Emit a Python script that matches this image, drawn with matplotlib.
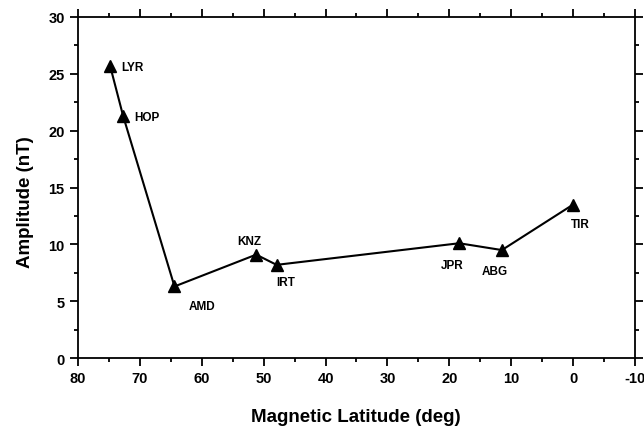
import matplotlib
matplotlib.use("Agg")
import matplotlib.pyplot as plt
from matplotlib.ticker import MultipleLocator

plt.rcParams['font.family'] = ['Liberation Sans', 'DejaVu Sans']
plt.rcParams['font.weight'] = 'bold'
plt.rcParams['axes.unicode_minus'] = False

stations = ["LYR", "HOP", "AMD", "KNZ", "IRT", "JPR", "ABG", "TIR"]
mag_lat = [74.8, 72.7, 64.4, 51.2, 47.9, 18.4, 11.5, 0.0]
amplitude = [25.7, 21.3, 6.3, 9.1, 8.2, 10.1, 9.5, 13.5]
# label offsets in points
offsets = [(8, -1), (8, -1), (10, -14), (-5, 10), (0, -12), (-5, -16), (-5, -15), (5, -14)]
aligns = ['left', 'left', 'left', 'center', 'left', 'center', 'center', 'center']

fig = plt.figure(figsize=(6.44, 4.27), dpi=100)
ax = fig.add_axes([0.121, 0.159, 0.865, 0.799])
ax.plot(mag_lat, amplitude, color='black', lw=1.5, marker='^', ms=8, mfc='black', mec='black')
for s, x, y, off, ha in zip(stations, mag_lat, amplitude, offsets, aligns):
    ax.annotate(s, (x, y), xytext=off, textcoords='offset points', ha=ha, va='center',
                fontsize=8.5, fontweight='bold')

ax.set_xlim(80, -10)
ax.set_ylim(0, 30)
ax.xaxis.set_major_locator(MultipleLocator(10))
ax.xaxis.set_minor_locator(MultipleLocator(5))
ax.yaxis.set_major_locator(MultipleLocator(5))
ax.yaxis.set_minor_locator(MultipleLocator(2.5))
ax.tick_params(which='both', direction='out', top=True, right=True, width=1.3, labelsize=10.5)
ax.tick_params(which='major', length=6)
ax.tick_params(which='minor', length=3)
ax.tick_params(axis='x', labeltop=False)
for lab in ax.get_xticklabels() + ax.get_yticklabels():
    lab.set_fontweight('bold')
for sp in ax.spines.values():
    sp.set_linewidth(1.3)
ax.set_xlabel('Magnetic Latitude (deg)', fontsize=13.5, fontweight='bold')
ax.set_ylabel('Amplitude (nT)', fontsize=13.5, fontweight='bold')
ax.xaxis.set_label_coords(0.499, -0.17)
ax.yaxis.set_label_coords(-0.095, 0.46)
ax.xaxis.label.set_va('center')
ax.yaxis.label.set_va('center')
fig.savefig('out.png', dpi=100)
